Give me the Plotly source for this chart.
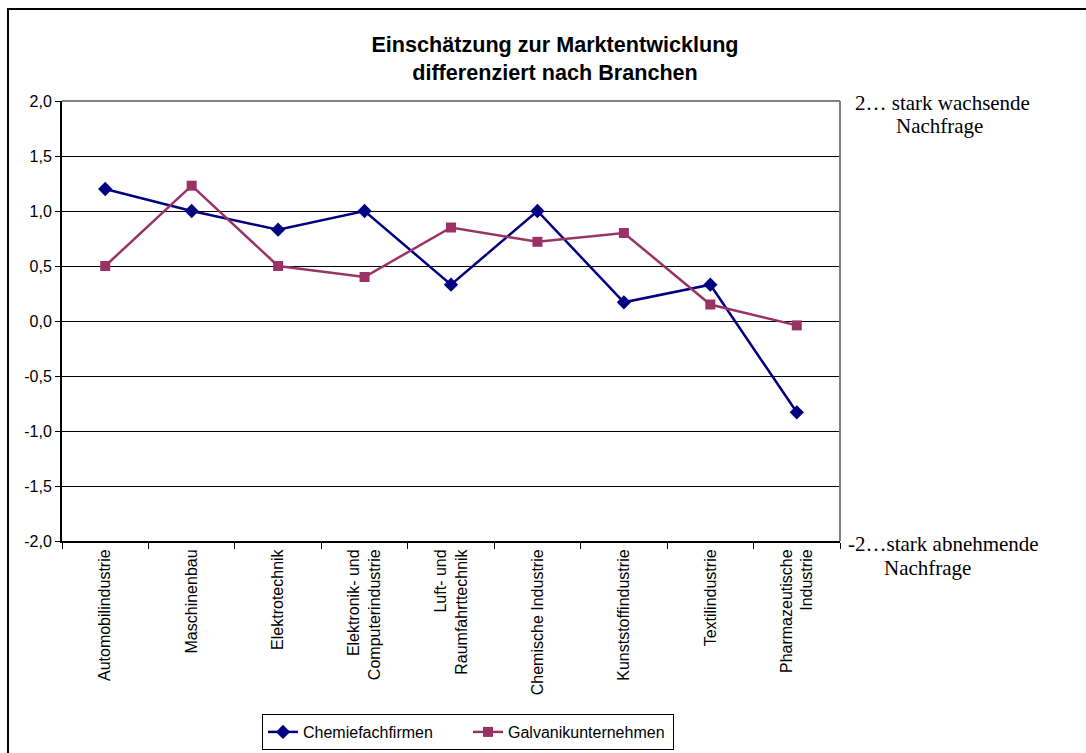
import plotly.graph_objects as go

branchen = [
    "Automobilindustrie",
    "Maschinenbau",
    "Elektrotechnik",
    "Elektronik- und<br>Computerindustrie",
    "Luft- und<br>Raumfahrttechnik",
    "Chemische Industrie",
    "Kunststoffindustrie",
    "Textilindustrie",
    "Pharmazeutische<br>Industrie",
]
chemiefachfirmen = [1.2, 1.0, 0.83, 1.0, 0.33, 1.0, 0.17, 0.33, -0.83]
galvanikunternehmen = [0.5, 1.23, 0.5, 0.4, 0.85, 0.72, 0.8, 0.15, -0.04]

y_ticks = [2.0, 1.5, 1.0, 0.5, 0.0, -0.5, -1.0, -1.5, -2.0]
y_tick_text = ["2,0", "1,5", "1,0", "0,5", "0,0", "-0,5", "-1,0", "-1,5", "-2,0"]

BLUE = "#000080"
PLUM = "#993366"
SANS = "Liberation Sans, Arial, sans-serif"
SERIF = "Liberation Serif, Times New Roman, serif"

W, H = 1086, 753
L, R, T, B = 62, 246, 101, 212
PW, PH = W - L - R, H - T - B


def px_x(x):
    return (x - L) / PW


def px_y(y):
    return (H - B - y) / PH


fig = go.Figure()
fig.add_trace(go.Scatter(
    x=branchen, y=chemiefachfirmen, name="Chemiefachfirmen",
    mode="lines+markers",
    line=dict(color=BLUE, width=2.5),
    marker=dict(symbol="diamond", size=11, color=BLUE),
))
fig.add_trace(go.Scatter(
    x=branchen, y=galvanikunternehmen, name="Galvanikunternehmen",
    mode="lines+markers",
    line=dict(color=PLUM, width=2.5),
    marker=dict(symbol="square", size=10, color=PLUM),
))

fig.update_layout(
    width=W, height=H,
    margin=dict(l=L, r=R, t=T, b=B, pad=0),
    paper_bgcolor="white", plot_bgcolor="white",
    font=dict(family=SANS, size=16, color="black"),
    title=dict(
        text="<b>Einschätzung zur Marktentwicklung<br>differenziert nach Branchen</b>",
        x=555 / W, xanchor="center", y=1 - 52 / H, yanchor="middle",
        font=dict(family=SANS, size=21.6, color="black"),
    ),
    showlegend=True,
    legend=dict(
        orientation="h", xref="container", yref="container",
        x=468 / W, xanchor="center", y=1 - 732 / H, yanchor="middle",
        bordercolor="black", borderwidth=1, bgcolor="white",
        font=dict(family=SANS, size=16),
        entrywidth=160, itemwidth=30,
    ),
    xaxis=dict(
        type="category", range=[-0.5, 8.5], automargin=False,
        showline=True, linecolor="black", linewidth=2,
        ticks="outside", tickson="boundaries", ticklen=6, tickcolor="black",
        tickangle=-90, tickfont=dict(family=SANS, size=16),
        showgrid=False, zeroline=False,
    ),
    yaxis=dict(
        range=[-2, 2], tickvals=y_ticks, ticktext=y_tick_text, automargin=False,
        showline=True, linecolor="black", linewidth=2,
        ticks="outside", ticklen=5, tickcolor="black",
        tickfont=dict(family=SANS, size=16),
        showgrid=True, gridcolor="black", gridwidth=1,
        zeroline=False,
    ),
    shapes=[
        # outer frame of the chart
        dict(type="rect", xref="paper", yref="paper",
             x0=px_x(8), x1=px_x(1100), y0=px_y(770), y1=px_y(9),
             line=dict(color="black", width=2), layer="below"),
        # grey top and right borders of the plot area
        dict(type="line", xref="paper", yref="paper", x0=0, x1=1, y0=1, y1=1,
             line=dict(color="#808080", width=2), layer="above"),
        dict(type="line", xref="paper", yref="paper", x0=1, x1=1, y0=0, y1=1,
             line=dict(color="#808080", width=2), layer="above"),
    ],
    annotations=[
        dict(text="2… stark wachsende", xref="paper", yref="paper",
             x=px_x(853), y=px_y(103), xanchor="left", yanchor="middle",
             showarrow=False, font=dict(family=SERIF, size=21)),
        dict(text="Nachfrage", xref="paper", yref="paper",
             x=px_x(894), y=px_y(126), xanchor="left", yanchor="middle",
             showarrow=False, font=dict(family=SERIF, size=21)),
        dict(text="-2…stark abnehmende", xref="paper", yref="paper",
             x=px_x(846), y=px_y(544), xanchor="left", yanchor="middle",
             showarrow=False, font=dict(family=SERIF, size=21)),
        dict(text="Nachfrage", xref="paper", yref="paper",
             x=px_x(882), y=px_y(568), xanchor="left", yanchor="middle",
             showarrow=False, font=dict(family=SERIF, size=21)),
    ],
)

fig.write_html("out.html")
